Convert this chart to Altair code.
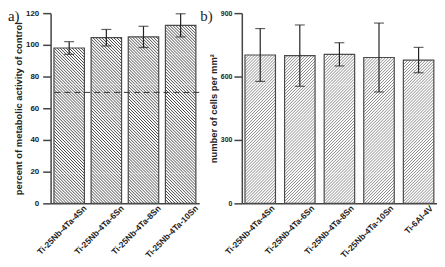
import altair as alt
import pandas as pd

# ---------------- data ----------------
left_categories = ["Ti-25Nb-4Ta-4Sn", "Ti-25Nb-4Ta-6Sn", "Ti-25Nb-4Ta-8Sn", "Ti-25Nb-4Ta-10Sn"]
left_values = [98.0, 104.5, 105.0, 112.3]
left_errors = [4.0, 5.2, 6.7, 7.3]
left_threshold = [70]
left_ticks = [0, 20, 40, 60, 80, 100, 120]

right_categories = ["Ti-25Nb-4Ta-4Sn", "Ti-25Nb-4Ta-6Sn", "Ti-25Nb-4Ta-8Sn", "Ti-25Nb-4Ta-10Sn", "Ti-6Al-4V"]
right_values = [702, 699, 705, 690, 678]
right_errors = [125, 145, 55, 163, 60]
right_ticks = [0, 300, 600, 900]

# ---------------- style ----------------
H = 192
W1 = 150
W2 = 197
SLICE_PX = 30          # hatch is drawn in horizontal slices of this pixel height
PERIOD = 3.0           # hatch period (horizontal pixels)
FONT = "Liberation Sans"
INK = "#222222"
AXIS = "#444444"
WHITE = "#ffffff"


def stripe_gradient(w, h, direction, color):
    """Soft diagonal stripes anchored at the slice's bottom-left corner."""
    L = w + h
    c = L / (w * w + h * h)
    if direction == "back":          # "\" lines
        x1, y1, x2, y2 = 0, 1, w * c, 1 - h * c
        phase = 0.0
    else:                            # "/" lines
        x1, y1, x2, y2 = 0, 0, w * c, h * c
        phase = h % PERIOD
    pts = []
    s = phase - PERIOD
    while s < L + PERIOD:
        pts += [(s, WHITE), (s + 1.0, color), (s + 2.0, WHITE)]
        s += PERIOD
    stops = [(p, col) for p, col in pts if 0.0 <= p <= L]
    if not stops or stops[0][0] > 0:
        stops.insert(0, (0.0, WHITE))
    if stops[-1][0] < L:
        stops.append((L, WHITE))
    return alt.LinearGradient(
        gradient="linear",
        stops=[alt.GradientStop(color=col, offset=round(p / L, 6)) for p, col in stops],
        x1=x1, y1=y1, x2=x2, y2=y2,
    )


def panel(cats, vals, errs, ymax, ticks, ylabel, W, pi, po, hdir, hcol,
          letter, letter_x, ytick_font, ytick_size, ylab_pad, label_offset,
          threshold=None):
    df = pd.DataFrame({"cat": cats, "value": vals, "err": errs})
    df["lo"] = df["value"] - df["err"]
    df["hi"] = df["value"] + df["err"]
    base = alt.Chart(df)

    xaxis = alt.Axis(
        title=None, labelAngle=-45, labelAlign="right", labelBaseline="middle",
        labelOffset=label_offset, labelPadding=3, ticks=False,
        labelFont=FONT, labelFontSize=8.5, labelFontWeight="bold", labelColor=INK,
        domainColor=AXIS, domainWidth=1.5, grid=False, labelLimit=200,
    )
    yaxis = alt.Axis(
        title=ylabel, values=ticks, grid=False,
        labelFont=FONT, labelFontSize=ytick_font, labelFontWeight="bold", labelColor=INK,
        labelPadding=ylab_pad, tickSize=ytick_size, tickColor=AXIS, tickWidth=1.5,
        domainColor=AXIS, domainWidth=1.5,
        titleFont=FONT, titleFontSize=9.5, titleFontWeight="bold", titleColor=INK,
        titlePadding=2,
    )
    xscale = alt.Scale(domain=cats, paddingInner=pi, paddingOuter=po)
    yscale = alt.Scale(domain=[0, ymax], nice=False)
    xenc = alt.X("cat:N", sort=cats, scale=xscale, axis=xaxis)

    n = len(cats)
    step = W / (n - pi + 2 * po)
    bw = step * (1 - pi)

    # hatch slices derived from the bar values
    su = SLICE_PX / H * ymax
    full_rows, top_rows = [], []
    for c, v in zip(cats, vals):
        k = 0
        while (k + 1) * su <= v + 1e-9:
            full_rows.append({"cat": c, "y0": k * su, "y1": (k + 1) * su})
            k += 1
        if v - k * su > 1e-9:
            top_rows.append({"cat": c, "y0": k * su, "y1": v,
                             "hpx": (v - k * su) / ymax * H})

    layers = []
    full_df = pd.DataFrame(full_rows)
    layers.append(
        alt.Chart(full_df).mark_bar(fill=stripe_gradient(bw, SLICE_PX, hdir, hcol), strokeWidth=0)
        .encode(x=xenc, y=alt.Y("y0:Q", scale=yscale, axis=yaxis), y2="y1:Q")
    )
    for row in top_rows:
        tdf = pd.DataFrame([row])
        layers.append(
            alt.Chart(tdf).mark_bar(fill=stripe_gradient(bw, row["hpx"], hdir, hcol), strokeWidth=0)
            .encode(x=xenc, y=alt.Y("y0:Q", scale=yscale, axis=yaxis), y2="y1:Q")
        )
    layers.append(
        base.mark_bar(fillOpacity=0, stroke="#4a4a4a", strokeWidth=1.2)
        .encode(x=xenc, y=alt.Y("value:Q", scale=yscale, axis=yaxis))
    )
    if threshold is not None:
        thr = pd.DataFrame({"t": threshold})
        layers.append(
            alt.Chart(thr).mark_rule(strokeDash=[6, 4], color="#333333", strokeWidth=1)
            .encode(y=alt.Y("t:Q", scale=yscale, axis=yaxis))
        )
    layers.append(
        base.mark_rule(color=INK, strokeWidth=1.2).encode(
            x=xenc, y=alt.Y("lo:Q", scale=yscale, axis=yaxis), y2="hi:Q")
    )
    layers.append(
        base.mark_tick(color=INK, thickness=1.2, size=10).encode(
            x=xenc, y=alt.Y("hi:Q", scale=yscale, axis=yaxis))
    )
    layers.append(
        base.mark_tick(color=INK, thickness=1.2, size=10).encode(
            x=xenc, y=alt.Y("lo:Q", scale=yscale, axis=yaxis))
    )
    ldf = pd.DataFrame({"t": [letter]})
    layers.append(
        alt.Chart(ldf).mark_text(
            font="Liberation Serif", fontSize=15, align="left", baseline="top", color=INK
        ).encode(text="t:N", x=alt.value(letter_x), y=alt.value(-4))
    )
    return alt.layer(*layers).properties(width=W, height=H)


left = panel(left_categories, left_values, left_errors, 120, left_ticks,
             "percent of metabolic activity of control", W1, 0.18, 0.09,
             "back", "#4a4a4a", "a)", -43, 8, 8, 4, 16, threshold=left_threshold)
right = panel(right_categories, right_values, right_errors, 900, right_ticks,
              "number of cells per mm²", W2, 0.23, 0.08,
              "fwd", "#8a8a8a", "b)", -42, 7, 8, 2, 13)

chart = (
    alt.hconcat(left, right, spacing=0)
    .properties(padding=0)
    .configure_view(strokeWidth=0)
)

chart.save("out.html", embed_options={"renderer": "svg", "actions": False})
